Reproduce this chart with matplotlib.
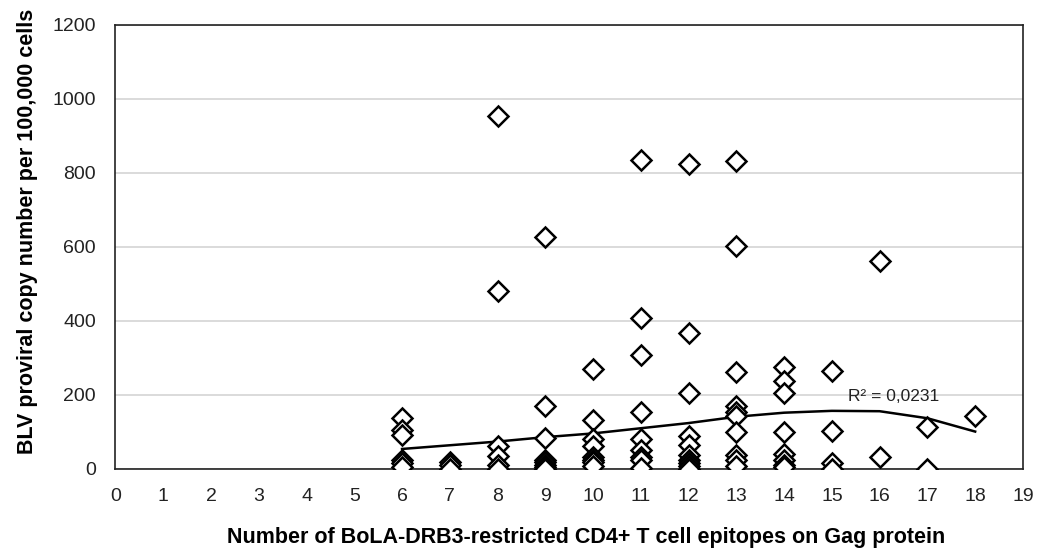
import matplotlib
matplotlib.use("Agg")
import matplotlib.pyplot as plt
import numpy as np

# epitope count per animal group and the copy numbers
x6 = [138, 104, 93, 25, 16, 5]
x7 = [20, 12, 0]
x8 = [953, 480, 62, 34, 12, 0]
x9 = [628, 170, 83, 25, 18, 12, 6, 0]
x10 = [270, 132, 81, 63, 33, 24, 18, 8]
x11 = [836, 408, 308, 155, 81, 50, 31, 25, 2]
x12 = [825, 367, 205, 89, 65, 38, 25, 15, 8, 0]
x13 = [832, 603, 263, 170, 155, 143, 101, 38, 24, 8]
x14 = [276, 238, 206, 100, 40, 24, 12, 6]
x15 = [265, 103, 16, 0]
x16 = [562, 32]
x17 = [114, 0]
x18 = [144]

groups = {6: x6, 7: x7, 8: x8, 9: x9, 10: x10, 11: x11, 12: x12,
          13: x13, 14: x14, 15: x15, 16: x16, 17: x17, 18: x18}

# polynomial trendline as drawn in the original (read at each integer x)
trend_x = [6, 7, 8, 9, 10, 11, 12, 13, 14, 15, 16, 17, 18]
trend_y = [54, 64, 74, 86, 96, 110, 124, 141, 152, 157, 156, 137, 101]

xticks = list(range(0, 20))
yticks = [0, 200, 400, 600, 800, 1000, 1200]
r2_label = "R² = 0,0231"

xs = []
ys = []
for k, vals in groups.items():
    xs += [k] * len(vals)
    ys += vals

plt.rcParams['font.family'] = ['Liberation Sans', 'DejaVu Sans']

fig = plt.figure(figsize=(10.47, 5.53), dpi=100)
ax = fig.add_axes([0.1103, 0.152, 0.8667, 0.803])

ax.set_xlim(0, 19)
ax.set_ylim(0, 1200)
ax.set_xticks(xticks)
ax.set_yticks(yticks)
ax.tick_params(length=0, labelsize=14, colors="#222222")
ax.tick_params(axis="x", pad=14)
ax.tick_params(axis="y", pad=14)
ax.yaxis.grid(True, color="#d4d4d4", linewidth=1.2)
ax.set_axisbelow(True)
for s in ax.spines.values():
    s.set_color("#222222")
    s.set_linewidth(1.2)

ax.plot(trend_x, trend_y, color="black", linewidth=1.8, zorder=2)

ax.plot(xs, ys, linestyle="none", marker="D", markersize=10.5,
        markerfacecolor="white", markeredgecolor="black",
        markeredgewidth=1.8, zorder=3)

ax.text(15.33, 197, r2_label, fontsize=12.5, va="center", ha="left",
        color="#222222")

ax.set_xlabel("Number of BoLA-DRB3-restricted CD4+ T cell epitopes on Gag protein",
              fontsize=15.5, fontweight="bold")
ax.set_ylabel("BLV proviral copy number per 100,000 cells",
              fontsize=15.5, fontweight="bold")
ax.xaxis.set_label_coords(0.519, -0.131)
ax.yaxis.set_label_coords(-0.085, 0.534)

fig.savefig("out.png", dpi=100)
